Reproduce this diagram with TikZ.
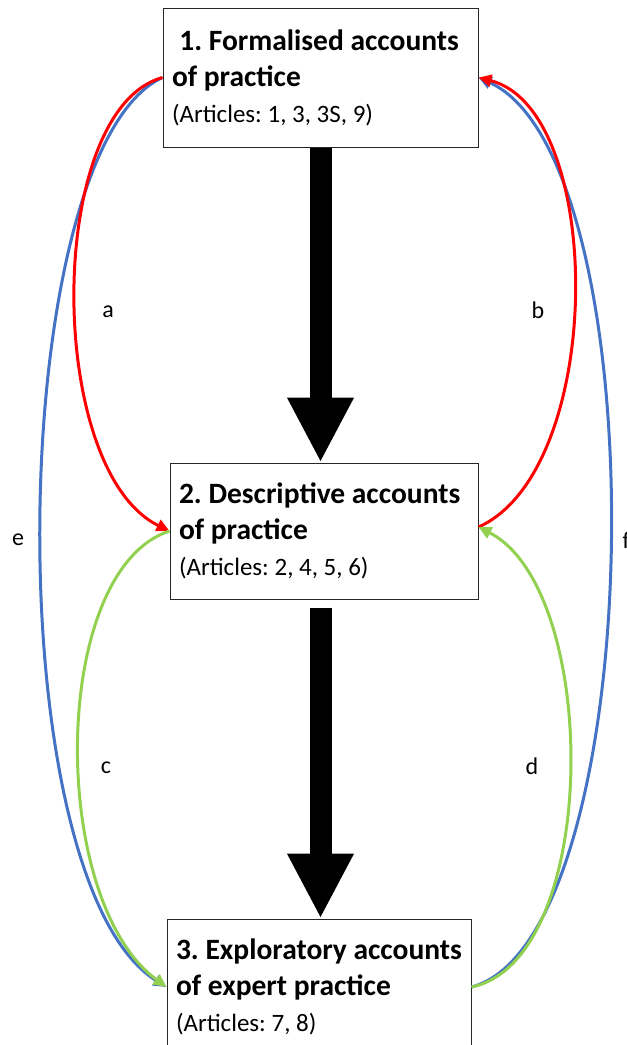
\documentclass[tikz,border=0pt]{standalone}
\usepackage{fontspec}
\setmainfont{Carlito}
\usetikzlibrary{arrows.meta}

\definecolor{linkred}{HTML}{FF0000}
\definecolor{linkblue}{HTML}{4472C4}
\definecolor{linkgreen}{HTML}{92D050}

\tikzset{
  stage/.style={draw=black!85, line width=1pt, rectangle, align=left,
    inner xsep=9pt, inner ysep=0pt, text width=#1-18pt, minimum width=#1,
    font=\fontsize{29.5}{36}\selectfont},
  bigarrow/.style={line width=22pt, -{Triangle[length=65pt,width=62pt]}},
  link/.style={line width=3pt, -{Triangle[length=13pt,width=12pt]}},
  letter/.style={inner sep=0pt, font=\fontsize{24}{24}\selectfont}
}

% normal word spacing inside the boxes
\newcommand{\normalwords}{\spaceskip=0pt\xspaceskip=0pt\frenchspacing}
\newcommand{\articles}[1]{\\[0pt]{\fontsize{25}{28}\selectfont (Articles: #1)}}

\begin{document}
\begin{tikzpicture}[x=1pt,y=-1pt]
\useasboundingbox (0,0) rectangle (627,1045);

% the three kinds of accounts
\node[stage=315pt, minimum height=139pt] (box1) at (320.5,77.5)
  {\normalwords\hspace*{0.25em}\textbf{1. Formalised accounts}\\\textbf{of practice}\articles{1, 3, 3S, 9}};
\node[stage=308pt, minimum height=136pt] (box2) at (324,531)
  {\normalwords\textbf{2. Descriptive accounts}\\\textbf{of practice}\articles{2, 4, 5, 6}};
\node[stage=304pt, minimum height=136pt] (box3) at (319,987)
  {\normalwords\textbf{3. Exploratory accounts}\\\textbf{of expert practice}\articles{7, 8}};

% main flow
\draw[bigarrow] (box1.south) -- (box1.south |- box2.north);
\draw[bigarrow, shorten <=8pt] (box1.south |- box2.south) -- (box1.south |- box3.north);

% outer loops
\draw[link, linkblue] (box1.west) .. controls (5,150) and (-5,880) .. (box3.west);
\draw[link, linkblue] (box3.east) .. controls (650,940) and (660,160) .. (box1.east);

% inner loops
\draw[link, linkred] (box1.west) .. controls (45,110) and (45,470) .. (box2.west);
\draw[link, linkred] ([yshift=4pt]box2.east) .. controls (606,470) and (606,110) .. (box1.east);
\draw[link, linkgreen] (box2.west) .. controls (50,570) and (48,900) .. (box3.west);
\draw[link, linkgreen] (box3.east) .. controls (601,960) and (601,590) .. ([yshift=4pt]box2.east);

\node[letter] (la) at (108,312) {a};
\node[letter] (lb) at (538,310) {b};
\node[letter] (lc) at (106,768) {c};
\node[letter] (ld) at (532,766) {d};
\node[letter] (le) at (18,540) {e};
\node[letter, anchor=west] (lf) at (622.5,540) {f};
\end{tikzpicture}
\end{document}
